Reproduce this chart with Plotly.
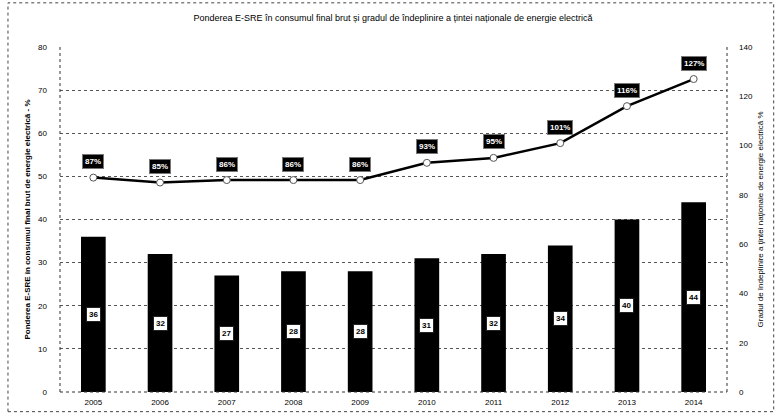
import plotly.graph_objects as go

years = ["2005", "2006", "2007", "2008", "2009", "2010", "2011", "2012", "2013", "2014"]
share_esre = [36, 32, 27, 28, 28, 31, 32, 34, 40, 44]
target_pct = [87, 85, 86, 86, 86, 93, 95, 101, 116, 127]
target_labels = ["87%", "85%", "86%", "86%", "86%", "93%", "95%", "101%", "116%", "127%"]

title_text = "Ponderea E-SRE în consumul final brut și gradul de îndeplinire a țintei naționale de energie electrică"
left_title = "Ponderea E-SRE în consumul final brut de energie electrică - %"
right_title = "Gradul de îndeplinire a ţintei naţionale de energie electrică %"

FONT = "Liberation Sans Narrow, Liberation Sans, Arial, sans-serif"

fig = go.Figure()
fig.add_trace(go.Bar(
    x=years, y=share_esre, marker=dict(color="black", line=dict(width=0)),
    width=0.37, yaxis="y", showlegend=False, hoverinfo="skip"))
fig.add_trace(go.Scatter(
    x=years, y=target_pct, yaxis="y2", mode="lines+markers",
    line=dict(color="black", width=2.5),
    marker=dict(size=7, color="white", line=dict(color="#555", width=1)),
    showlegend=False, hoverinfo="skip"))

annotations = []
for i, v in enumerate(share_esre):
    annotations.append(dict(
        x=i, y=v / 2, xref="x", yref="y", text=f"<b>{v}</b>", showarrow=False,
        bgcolor="white", bordercolor="#222", borderwidth=1, borderpad=2,
        font=dict(family=FONT, size=8, color="black")))
for i, (v, lab) in enumerate(zip(target_pct, target_labels)):
    annotations.append(dict(
        x=i, y=v, xref="x", yref="y2", text=f"<b>{lab}</b>", showarrow=False,
        yshift=16, bgcolor="black", bordercolor="#777", borderwidth=1, borderpad=2,
        font=dict(family=FONT, size=8, color="white")))
# right axis title
annotations.append(dict(
    x=(760 - 60) / 667, y=0.5, xref="paper", yref="paper", text=right_title,
    textangle=-90, showarrow=False, xanchor="center", yanchor="middle",
    font=dict(family=FONT, size=8, color="#000")))

shapes = [
    dict(type="rect", xref="paper", yref="paper", x0=-0.078, x1=1.07, y0=-0.057, y1=1.128,
         line=dict(color="#444", width=1, dash="dot")),
    dict(type="line", xref="paper", yref="paper", x0=0, x1=0, y0=0, y1=1,
         line=dict(color="#333", width=1, dash="dot")),
    dict(type="line", xref="paper", yref="paper", x0=1, x1=1, y0=0, y1=1,
         line=dict(color="#333", width=1, dash="dot")),
    dict(type="line", xref="paper", yref="paper", x0=0, x1=1, y0=0, y1=0,
         line=dict(color="#333", width=1, dash="dot")),
]

fig.update_layout(
    width=776, height=419,
    margin=dict(l=60, r=49, t=47, b=22),
    paper_bgcolor="white", plot_bgcolor="white",
    font=dict(family=FONT, size=8, color="#111"),
    title=dict(text=title_text, x=393 / 776, xanchor="center", y=1 - 18 / 419, yanchor="middle",
               font=dict(family=FONT, size=9, color="#000")),
    xaxis=dict(type="category", range=[-0.5, len(years) - 0.5], autorange=False,
               showgrid=False, showline=False, ticks="",
               tickfont=dict(family=FONT, size=8, color="#000"), ticklabelstandoff=4,
               fixedrange=True),
    yaxis=dict(range=[0, 80], dtick=10, showgrid=True, gridcolor="#555", gridwidth=1,
               griddash="dot", zeroline=False, showline=False, ticks="",
               ticklabelstandoff=12,
               tickfont=dict(family=FONT, size=8, color="#000"),
               title=dict(text=f"<b>{left_title}</b>", standoff=6,
                          font=dict(family=FONT, size=8, color="#000"))),
    yaxis2=dict(range=[0, 140], dtick=20, overlaying="y", side="right", showgrid=False,
                zeroline=False, showline=False, ticks="", ticklabelstandoff=11,
                tickfont=dict(family=FONT, size=8, color="#000")),
    annotations=annotations,
    shapes=shapes,
)

fig.write_html("out.html", config={"displayModeBar": False},
               post_script="document.body.style.margin='0';document.body.style.overflow='hidden';")
